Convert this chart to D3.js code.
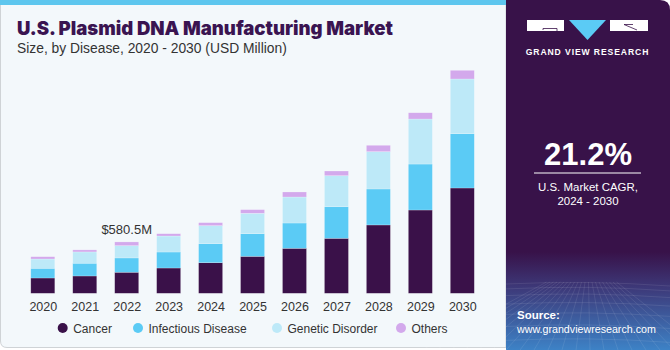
<!DOCTYPE html>
<html><head><meta charset="utf-8">
<script src="https://cdn.jsdelivr.net/npm/d3@7"></script>
<style>
html,body{margin:0;padding:0;background:#fff;}
svg{display:block;}
text{font-family:"Liberation Sans",Arial,sans-serif;}
</style></head>
<body>
<svg id="c" width="670" height="350"></svg>
<script>
const years = ["2020","2021","2022","2023","2024","2025","2026","2027","2028","2029","2030"];
const cancer     = [173,196,238,286,346,418,509,622,773,942,1191];
const infectious = [110,144,162,181,215,256,286,357,407,520,614];
const genetic    = [105,128,139,181,204,231,294,351,422,509,619];
const others     = [26,23,42,26,34,41,57,53,72,71,98];
const seriesNames = ["Cancer","Infectious Disease","Genetic Disorder","Others"];
const seriesColors = ["#3a1149","#5bcbf5","#bde9f8","#d3a9ec"];
const annotation = {year:"2022", label:"$580.5M"};

const svg = d3.select("#c");

function fit(sel, target){
  const w = sel.node().getComputedTextLength();
  const fs = +sel.attr("font-size");
  sel.attr("font-size", fs*target/w);
}

// card background
const defs = svg.append("defs");
svg.append("path")
  .attr("d","M0.5,0 H506 V347.5 H7 Q0.5,347.5 0.5,341 Z")
  .attr("fill","#f3f8fb").attr("stroke","#cfd3d6").attr("stroke-width",1);
svg.append("rect").attr("x",0).attr("y",0).attr("width",506).attr("height",5).attr("fill","#5dc6ee");

// right panel
const grad = defs.append("linearGradient").attr("id","pg").attr("x1",0).attr("y1",0).attr("x2",0).attr("y2",1);
grad.append("stop").attr("offset","0").attr("stop-color","#381249");
grad.append("stop").attr("offset","0.72").attr("stop-color","#381249");
grad.append("stop").attr("offset","0.82").attr("stop-color","#3d3878");
grad.append("stop").attr("offset","1").attr("stop-color","#3d82c6");
svg.append("path")
  .attr("d","M506,0 H660 Q670,0 670,10 V350 H506 Z")
  .attr("fill","url(#pg)");
const grid = svg.append("g").attr("stroke","#ffffff").attr("stroke-opacity",0.13).attr("stroke-width",0.7).attr("fill","none");
for(let i=0;i<9;i++){
  const yy = 284 + i*i*0.9 + i*4;
  grid.append("path").attr("d",`M506,${yy} Q588,${yy-4} 670,${yy+2}`);
}
for(let i=-6;i<=14;i++){
  const xb = 506 + i*14;
  grid.append("line").attr("x1",588+(xb-588)*0.25).attr("y1",282).attr("x2",xb).attr("y2",350);
}

// logo
const logo = svg.append("g");
logo.append("rect").attr("x",527).attr("y",20).attr("width",37).attr("height",11).attr("fill","#fff");
logo.append("path").attr("d","M543,30 V28.5 H557 V31").attr("stroke","#381249").attr("stroke-width",0.8).attr("fill","none");
logo.append("path").attr("d","M569,20 H606 L587.5,40 Z").attr("fill","#5bcbf5");
logo.append("rect").attr("x",610).attr("y",20).attr("width",38).attr("height",11).attr("fill","#fff");
logo.append("path").attr("d","M624,24.5 L637,30 M624,24.5 H633").attr("stroke","#381249").attr("stroke-width",0.8).attr("fill","none");
logo.append("text").attr("x",587.5).attr("y",55).attr("text-anchor","middle")
  .attr("fill","#fff").attr("font-size",8.6).attr("font-weight","bold").attr("letter-spacing",0.9)
  .text("GRAND VIEW RESEARCH");

// CAGR
const cg = svg.append("text").attr("x",588).attr("y",165).attr("text-anchor","middle").attr("fill","#fff")
  .attr("font-size",30).attr("font-weight","bold").text("21.2%");
fit(cg, 88);
svg.append("line").attr("x1",534).attr("x2",641).attr("y1",173).attr("y2",173).attr("stroke","#fff").attr("stroke-width",1);
const m1 = svg.append("text").attr("x",588).attr("y",191).attr("text-anchor","middle").attr("fill","#fff")
  .attr("font-size",12).text("U.S. Market CAGR,");
fit(m1, 100);
svg.append("text").attr("x",588).attr("y",205).attr("text-anchor","middle").attr("fill","#fff")
  .attr("font-size",m1.attr("font-size")).text("2024 - 2030");
svg.append("text").attr("x",517).attr("y",319).attr("fill","#fff").attr("font-size",11.5).attr("font-weight","bold").text("Source:");
const src = svg.append("text").attr("x",517).attr("y",333).attr("fill","#fff").attr("font-size",11).text("www.grandviewresearch.com");
fit(src, 139);

// title
const title = svg.append("text").attr("x",17).attr("y",35).attr("fill","#3a1451")
  .attr("font-size",20).attr("font-weight",900).style("font-family","Inter, 'Liberation Sans', Arial, sans-serif")
  .text("U.S. Plasmid DNA Manufacturing Market");
fit(title, 376);
const sub = svg.append("text").attr("x",17).attr("y",53).attr("fill","#333").attr("font-size",13)
  .text("Size, by Disease, 2020 - 2030 (USD Million)");
fit(sub, 270);

// chart
const x = d3.scalePoint().domain(years).range([42.8,462.3]);
const bw = 24;
const y = d3.scaleLinear().domain([0,2600]).range([293.3, 293.3-2600/11.31]);
const table = years.map((yr,i)=>({year:yr, Cancer:cancer[i], "Infectious Disease":infectious[i], "Genetic Disorder":genetic[i], Others:others[i]}));
const stack = d3.stack().keys(seriesNames)(table);

const g = svg.append("g");
stack.forEach((s,si)=>{
  g.append("g").selectAll("rect").data(s).join("rect")
    .attr("x",d=>x(d.data.year)-bw/2)
    .attr("width",bw)
    .attr("y",d=>y(d[1]))
    .attr("height",d=>y(d[0])-y(d[1]))
    .attr("fill",seriesColors[si])
    .attr("stroke","rgba(255,255,255,0.35)").attr("stroke-width",0.6);
});

// axis
const ax = svg.append("g").attr("transform","translate(0,293.3)")
  .call(d3.axisBottom(x).tickSize(0).tickPadding(9));
ax.select(".domain").remove();
ax.selectAll("text").attr("font-size",12.5).attr("fill","#333").attr("font-family","Liberation Sans, Arial, sans-serif");

// annotation
const ai = years.indexOf(annotation.year);
const tot = cancer[ai]+infectious[ai]+genetic[ai]+others[ai];
svg.append("text").attr("x",x(annotation.year)).attr("y",y(tot)-8).attr("text-anchor","middle")
  .attr("fill","#333").attr("font-size",13).text(annotation.label);

// legend
const legX = [62.7,138,277,401];
seriesNames.forEach((n,i)=>{
  svg.append("circle").attr("cx",legX[i]).attr("cy",328).attr("r",5).attr("fill",seriesColors[i]);
  svg.append("text").attr("x",legX[i]+10.5).attr("y",332.5).attr("fill","#333").attr("font-size",12).text(n);
});
</script>
</body></html>
